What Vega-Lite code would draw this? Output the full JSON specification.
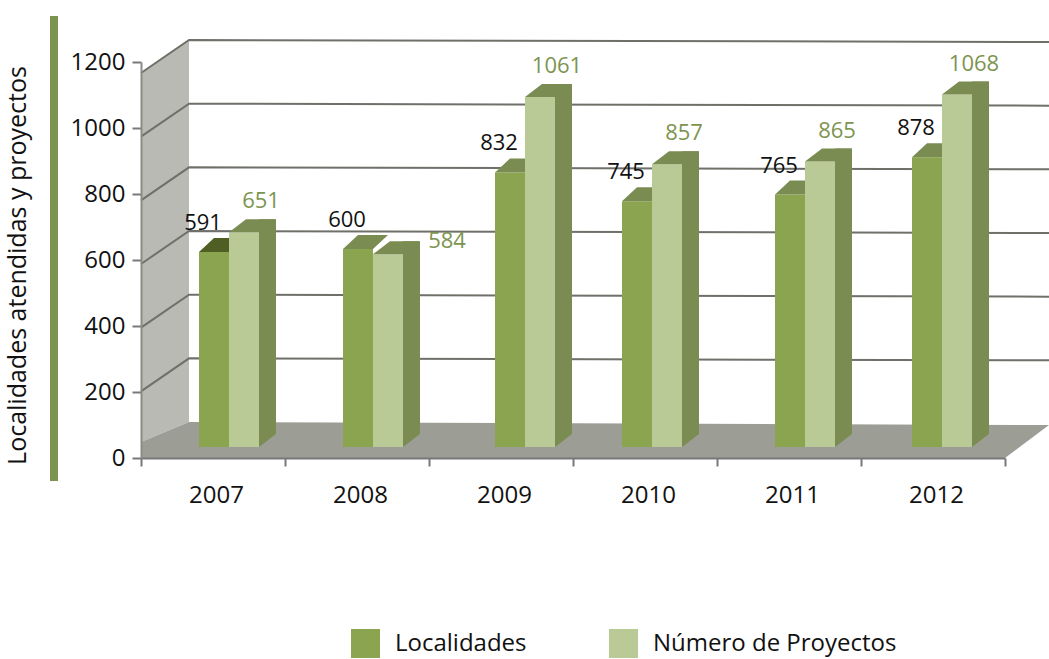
{"$schema":"https://vega.github.io/schema/vega-lite/v6.json","autosize":{"type":"none"},"padding":{"left":141,"top":0,"right":0,"bottom":201},"width":908,"height":458,"background":"white","config":{"view":{"stroke":null},"font":"Open Sans","axis":{"grid":false}},
"data":{"values":[
{"year":2007,"series":"Localidades","value":591},{"year":2008,"series":"Localidades","value":600},{"year":2009,"series":"Localidades","value":832},{"year":2010,"series":"Localidades","value":745},{"year":2011,"series":"Localidades","value":765},{"year":2012,"series":"Localidades","value":878},
{"year":2007,"series":"Número de Proyectos","value":651},{"year":2008,"series":"Número de Proyectos","value":584},{"year":2009,"series":"Número de Proyectos","value":1061},{"year":2010,"series":"Número de Proyectos","value":857},{"year":2011,"series":"Número de Proyectos","value":865},{"year":2012,"series":"Número de Proyectos","value":1068}]},
"encoding":{"x":{"field":"year","type":"quantitative","axis":null,"scale":{"domain":[2005,2006,2007,2008,2009,2010,2011,2012,2013],"range":[0,48,88,232,384,511,664,801,908]}},"y":{"field":"value","type":"quantitative","axis":null,"stack":null,"scale":{"domain":[0,1388],"range":[447,-11],"nice":false}}},
"resolve":{"scale":{"x":"independent","y":"independent"},"axis":{"x":"independent","y":"independent"}},
"layer":[
{"data":{"values":[{"year":2006,"value":0}]},"mark":{"type":"point","filled":true,"opacity":1,"size":4,"color":"#b9bab3","shape":"M0,0 L0,-382 L-48,-349 L-48,20 Z"},"encoding":{"y":{"field":"value","type":"quantitative","axis":null,"scale":{"domain":[0,1200],"range":[422,40],"nice":false}}}},
{"data":{"values":[{"year":2006,"value":0}]},"mark":{"type":"point","filled":true,"opacity":1,"size":4,"color":"#9c9d95","shape":"M0,0 L860,3 L816,36 L-48,36 L-48,20 Z"},"encoding":{"y":{"field":"value","type":"quantitative","axis":null,"scale":{"domain":[0,1200],"range":[422,40],"nice":false}}}},
{"data":{"values":[{"year":2005,"value":0}]},"mark":{"type":"point","filled":true,"opacity":1,"size":4,"color":"#7d9450","shape":"M-91,-431 L-83,-431 L-83,34 L-91,34 Z"}},
{"data":{"values":[{"year":2006,"value":200},{"year":2006,"value":400},{"year":2006,"value":600},{"year":2006,"value":800},{"year":2006,"value":1000},{"year":2006,"value":1200}]},"mark":{"type":"point","filled":false,"opacity":1,"size":4,"stroke":"#6f706a","strokeWidth":2,"shape":"M-48,33 L0,0 L860,2"},"encoding":{"y":{"field":"value","type":"quantitative","axis":null,"scale":{"domain":[0,1200],"range":[422,40],"nice":false}}}},
{"data":{"values":[{"year":2007,"value":0},{"year":2008,"value":0},{"year":2009,"value":0},{"year":2010,"value":0},{"year":2011,"value":0},{"year":2012,"value":0}]},"mark":{"type":"point","opacity":0},"encoding":{"x":{"field":"year","type":"ordinal","scale":{"type":"band","range":[0,864],"paddingInner":0,"paddingOuter":0},"axis":{"orient":"bottom","title":null,"tickBand":"extent","labelAngle":0,"labelFontSize":24,"labelColor":"#111","labelPadding":17,"labelOffset":3,"tickSize":8,"tickColor":"#77787a","tickWidth":2,"domainColor":"#77787a","domainWidth":2,"zindex":1}},"y":{"field":"value","type":"quantitative","stack":null,"scale":{"domain":[0,1200],"range":[458,62],"nice":false},"axis":{"orient":"left","title":"Localidades atendidas y proyectos","titleFontSize":25,"titleFontWeight":"normal","titleColor":"#111","titleX":-111,"titleY":265,"titleAngle":270,"titleAlign":"center","values":[0,200,400,600,800,1000,1200],"format":"d","ticks":true,"tickSize":9,"tickColor":"#77787a","tickWidth":2,"domain":true,"domainColor":"#8a8b86","domainWidth":2,"labelFontSize":24,"labelColor":"#111","labelPadding":7,"zindex":1}}}},
{"transform":[{"filter":"datum.series==='Localidades'"}],"mark":{"type":"bar","orient":"vertical","size":30,"xOffset":-15},"encoding":{"color":{"field":"series","type":"nominal","scale":{"domain":["Localidades","Número de Proyectos"],"range":["#8aa450","#b9ca96"]},"legend":{"title":null,"orient":"none","legendX":210,"legendY":629,"direction":"horizontal","columns":2,"symbolType":"square","symbolSize":841,"symbolStrokeWidth":0,"symbolOpacity":1,"labelFontSize":24,"labelColor":"#111","labelOffset":15,"columnPadding":82,"labelLimit":400}}}},
{"transform":[{"filter":"datum.series==='Localidades' && datum.year>2007"}],"mark":{"type":"point","filled":true,"opacity":1,"size":4,"color":"#7a8c52","shape":"M-30,0 L0,0 L15,-14 L-15,-14 Z"}},
{"transform":[{"filter":"datum.series==='Localidades' && datum.year===2007"}],"mark":{"type":"point","filled":true,"opacity":1,"size":4,"color":"#4f5f23","shape":"M-30,0 L0,0 L15,-14 L-15,-14 Z"}},
{"transform":[{"filter":"datum.series!=='Localidades'"}],"mark":{"type":"bar","orient":"vertical","size":17,"xOffset":38.5,"color":"#7a8c52"},"encoding":{"y":{"field":"value","type":"quantitative","axis":null,"stack":null,"scale":{"domain":[0,1388],"range":[434,-24],"nice":false}}}},
{"transform":[{"filter":"datum.series!=='Localidades'"}],"mark":{"type":"bar","orient":"vertical","size":30,"xOffset":15},"encoding":{"color":{"field":"series","type":"nominal","scale":{"domain":["Localidades","Número de Proyectos"],"range":["#8aa450","#b9ca96"]},"legend":null}}},
{"transform":[{"filter":"datum.series!=='Localidades'"}],"mark":{"type":"point","filled":true,"opacity":1,"size":4,"color":"#7a8c52","shape":"M0,0 L30,0 L47,-13 L17,-13 Z"}},
{"data":{"values":[{"year":2007,"value":0},{"year":2008,"value":0},{"year":2009,"value":0},{"year":2010,"value":0},{"year":2011,"value":0},{"year":2012,"value":0}]},"mark":{"type":"point","filled":true,"opacity":1,"size":4,"color":"#7a8c52","shape":"M30,0 L47,-13 L30,-13 Z"}},
{"transform":[{"filter":"datum.series==='Localidades'"}],"mark":{"type":"text","fontSize":22,"color":"#111","dx":-26,"dy":-29},"encoding":{"text":{"field":"value","type":"quantitative"}}},
{"transform":[{"filter":"datum.series!=='Localidades' && datum.year!==2008"}],"mark":{"type":"text","fontSize":22,"color":"#7d9450","dx":32,"dy":-31},"encoding":{"text":{"field":"value","type":"quantitative","format":"d"}}},
{"transform":[{"filter":"datum.series!=='Localidades' && datum.year===2008"}],"mark":{"type":"text","fontSize":22,"color":"#7d9450","dx":74,"dy":-13},"encoding":{"text":{"field":"value","type":"quantitative"}}}
]}
